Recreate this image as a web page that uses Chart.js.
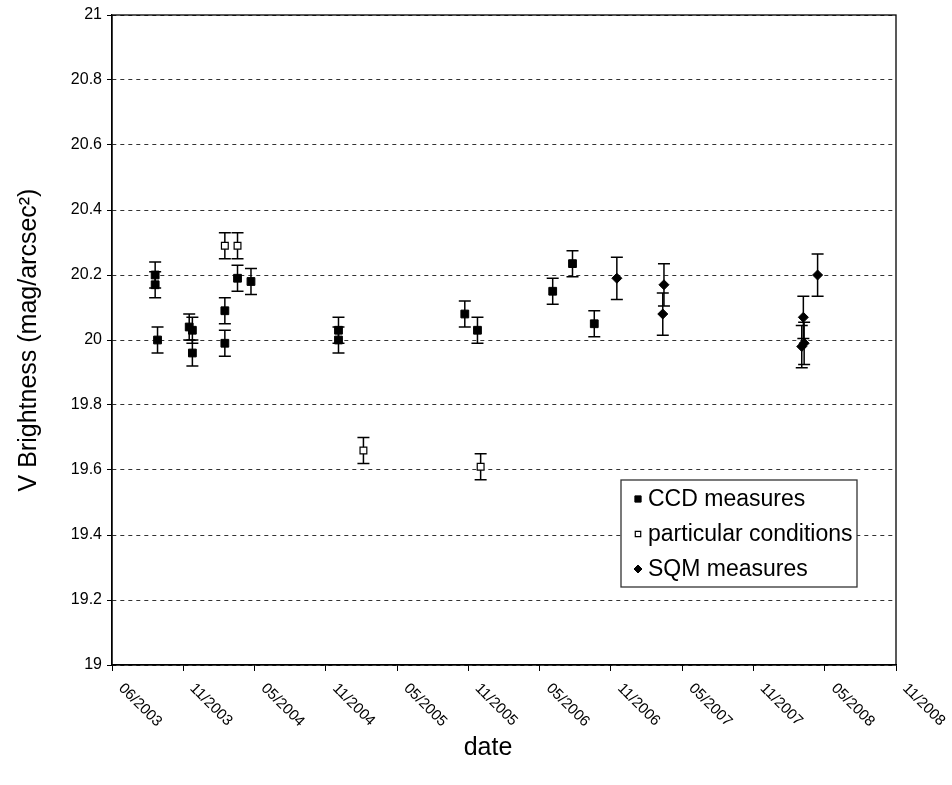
<!DOCTYPE html>
<html>
<head>
<meta charset="utf-8">
<script src="https://cdn.jsdelivr.net/npm/chart.js@4.4.1/dist/chart.umd.min.js"></script>
<style>
  html, body { margin: 0; padding: 0; background: #fff; }
  #wrap { width: 952px; height: 785px; }
</style>
</head>
<body>
<div id="wrap"><canvas id="chart" width="952" height="785"></canvas></div>
<script>
// --- DATA (x = days since 01/06/2003, one tick every 180 days) ---
const tickLabels = ['06/2003', '11/2003', '05/2004', '11/2004', '05/2005', '11/2005',
                    '05/2006', '11/2006', '05/2007', '11/2007', '05/2008', '11/2008'];
const tickStep = 180;

const ccdDays   = [109, 109, 115, 195, 203, 203, 285, 285, 317, 351, 572, 572, 891, 923, 1113, 1163, 1218];
const ccdValues = [20.20, 20.17, 20.00, 20.04, 20.03, 19.96, 20.09, 19.99, 20.19, 20.18, 20.03, 20.00, 20.08, 20.03, 20.15, 20.235, 20.05];
const ccdErrors = [0.04, 0.04, 0.04, 0.04, 0.04, 0.04, 0.04, 0.04, 0.04, 0.04, 0.04, 0.04, 0.04, 0.04, 0.04, 0.04, 0.04];

const condDays   = [285, 317, 635, 931];
const condValues = [20.29, 20.29, 19.66, 19.61];
const condErrors = [0.04, 0.04, 0.04, 0.04];

const sqmDays   = [1275, 1394, 1391, 1746, 1748, 1742, 1782];
const sqmValues = [20.19, 20.17, 20.08, 20.07, 19.99, 19.98, 20.20];
const sqmErrors = [0.065, 0.065, 0.065, 0.065, 0.065, 0.065, 0.065];

const FONT = '"Liberation Sans", Arial, Helvetica, sans-serif';

function toPoints(days, vals) {
    return days.map((d, i) => ({ x: d, y: vals[i] }));
}

// --- PLUGINS ---
const errorBars = {
    id: 'errorBars',
    beforeDatasetsDraw(chart) {
        const ctx = chart.ctx, xs = chart.scales.x, ys = chart.scales.y;
        ctx.save();
        ctx.strokeStyle = '#000';
        ctx.lineWidth = 1.5;
        chart.data.datasets.forEach(ds => {
            ds.data.forEach((p, i) => {
                const px = xs.getPixelForValue(p.x);
                const top = ys.getPixelForValue(p.y + ds.errors[i]);
                const bot = ys.getPixelForValue(p.y - ds.errors[i]);
                ctx.beginPath();
                ctx.moveTo(px, top); ctx.lineTo(px, bot);
                ctx.moveTo(px - 6, top); ctx.lineTo(px + 6, top);
                ctx.moveTo(px - 6, bot); ctx.lineTo(px + 6, bot);
                ctx.stroke();
            });
        });
        ctx.restore();
    }
};

const frameAndText = {
    id: 'frameAndText',
    beforeDatasetsDraw(chart) {
        // solid box round the plot area, over the dashed grid
        const { ctx, chartArea: a } = chart;
        ctx.save();
        ctx.setLineDash([]);
        ctx.strokeStyle = '#000';
        ctx.lineWidth = 1.3;
        ctx.strokeRect(a.left, a.top, a.right - a.left, a.bottom - a.top);
        ctx.restore();
    },
    afterDraw(chart) {
        const { ctx, chartArea: a } = chart;
        const xs = chart.scales.x;
        ctx.save();
        // slanted date labels, starting at the tick and going down-right
        ctx.font = '15px ' + FONT;
        ctx.fillStyle = '#000';
        ctx.textAlign = 'left';
        ctx.textBaseline = 'middle';
        tickLabels.forEach((lab, i) => {
            const px = xs.getPixelForValue(i * tickStep);
            ctx.save();
            ctx.translate(px + 9, a.bottom + 21);
            ctx.rotate(Math.PI / 4);
            ctx.fillText(lab, 0, 0);
            ctx.restore();
        });
        // axis title
        ctx.font = '25px ' + FONT;
        ctx.textAlign = 'center';
        ctx.fillText('date', 488, 748);

        // legend box
        const lx = 621, ly = 480, lw = 236, rowH = 35;
        const n = chart.data.datasets.length;
        ctx.fillStyle = '#fff';
        ctx.fillRect(lx, ly, lw, rowH * n + 2);
        ctx.strokeStyle = '#333';
        ctx.lineWidth = 1.3;
        ctx.strokeRect(lx, ly, lw, rowH * n + 2);
        ctx.font = '23px ' + FONT;
        ctx.textAlign = 'left';
        chart.data.datasets.forEach((ds, i) => {
            const cy = ly + 19 + i * rowH;
            ctx.fillStyle = ds.backgroundColor;
            ctx.strokeStyle = ds.borderColor;
            ctx.lineWidth = ds.borderWidth;
            Chart.helpers.drawPoint(ctx, {
                pointStyle: ds.pointStyle, radius: ds.pointRadius * 0.8,
                borderWidth: ds.borderWidth, rotation: 0
            }, lx + 17, cy);
            ctx.fillStyle = '#000';
            ctx.fillText(ds.label, lx + 27, cy + 1);
        });
        ctx.restore();
    }
};

// --- CHART ---
new Chart(document.getElementById('chart'), {
    type: 'scatter',
    data: {
        datasets: [
            { label: 'CCD measures', data: toPoints(ccdDays, ccdValues), errors: ccdErrors,
              pointStyle: 'rect', pointRadius: 5.5, backgroundColor: '#000', borderColor: '#000', borderWidth: 1 },
            { label: 'particular conditions', data: toPoints(condDays, condValues), errors: condErrors,
              pointStyle: 'rect', pointRadius: 4.8, backgroundColor: '#fff', borderColor: '#000', borderWidth: 1.2 },
            { label: 'SQM measures', data: toPoints(sqmDays, sqmValues), errors: sqmErrors,
              pointStyle: 'rectRot', pointRadius: 5, backgroundColor: '#000', borderColor: '#000', borderWidth: 1 }
        ]
    },
    options: {
        responsive: false,
        animation: false,
        layout: { padding: { left: 0, top: 15, right: 56, bottom: 0 } },
        plugins: { legend: { display: false }, tooltip: { enabled: false } },
        scales: {
            x: {
                type: 'linear',
                min: 0,
                max: (tickLabels.length - 1) * tickStep,
                ticks: { stepSize: tickStep, display: false },
                grid: { drawOnChartArea: false, drawTicks: true, tickLength: 6, color: '#000', tickColor: '#000' },
                border: { display: true, color: '#000', width: 1.3 },
                afterFit(scale) { scale.height = 120; }
            },
            y: {
                min: 19,
                max: 21,
                ticks: {
                    stepSize: 0.2,
                    color: '#000',
                    padding: 5,
                    font: { family: FONT, size: 16 },
                    callback: v => String(+v.toFixed(1))
                },
                grid: {
                    color: '#333', lineWidth: 1, tickLength: 5, tickColor: '#000', tickBorderDash: []
                },
                border: { display: true, color: '#000', width: 1.3, dash: [4, 4] },
                title: {
                    display: true,
                    text: 'V Brightness (mag/arcsec\u00B2)',
                    color: '#000',
                    font: { family: FONT, size: 25 },
                    padding: { top: 14, bottom: 0 }
                },
                afterFit(scale) { scale.width = 112; }
            }
        }
    },
    plugins: [errorBars, frameAndText]
});
</script>
</body>
</html>
